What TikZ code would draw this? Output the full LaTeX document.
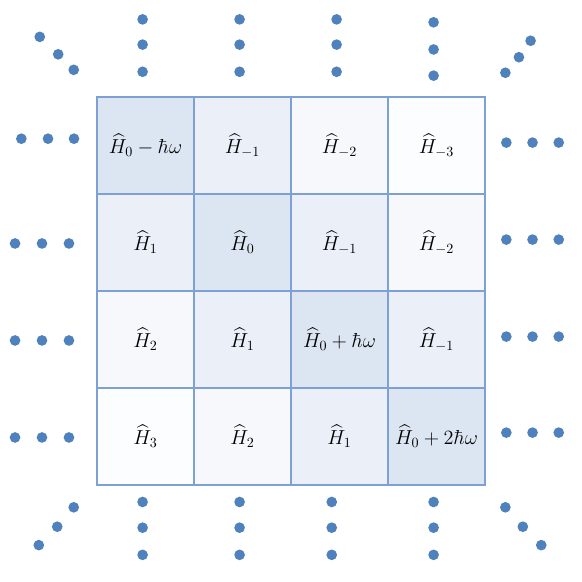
\documentclass[tikz,border=0pt]{standalone}
\usepackage{amsmath}

\definecolor{dotblue}{HTML}{4F81BD}
\definecolor{gridblue}{HTML}{7EA1D3}
\definecolor{band0}{HTML}{DCE6F2}
\definecolor{band1}{HTML}{EBF0F8}
\definecolor{band2}{HTML}{F6F8FB}
\definecolor{band3}{HTML}{FCFDFE}

\tikzset{
  cell/.style={draw=gridblue, line width=1.3pt, minimum size=2.425cm,
    inner sep=0pt, font=\Large},
  blob/.style={fill=dotblue},
}

\begin{document}
\begin{tikzpicture}[x=2.425cm,y=2.425cm]

\useasboundingbox (-1,-1) rectangle (5,5);

% the Floquet blocks
\foreach \r/\c/\b/\t in {
  0/0/0/{$\widehat{H}_0-\hbar\omega$}, 0/1/1/{$\widehat{H}_{-1}$}, 0/2/2/{$\widehat{H}_{-2}$}, 0/3/3/{$\widehat{H}_{-3}$},
  1/0/1/{$\widehat{H}_1$}, 1/1/0/{$\widehat{H}_0$}, 1/2/1/{$\widehat{H}_{-1}$}, 1/3/2/{$\widehat{H}_{-2}$},
  2/0/2/{$\widehat{H}_2$}, 2/1/1/{$\widehat{H}_1$}, 2/2/0/{$\widehat{H}_0+\hbar\omega$}, 2/3/1/{$\widehat{H}_{-1}$},
  3/0/3/{$\widehat{H}_3$}, 3/1/2/{$\widehat{H}_2$}, 3/2/1/{$\widehat{H}_1$}, 3/3/0/{$\widehat{H}_0+2\hbar\omega$}}
  {\node[cell, fill=band\b] (c\r\c) at (\c+0.5, 3.5-\r) {\t};}

% dots above and below
\foreach \x in {0.47,1.47,2.47}
  {\foreach \y in {4.80,4.54,4.26}
    {\fill[blob] (\x,\y) circle (0.055);}}
\foreach \y in {4.77,4.49,4.22}
  {\fill[blob] (3.47,\y) circle (0.055);}
\foreach \x in {0.47,1.47,2.42,3.47}
  {\foreach \y in {-0.175,-0.44,-0.72}
    {\fill[blob] (\x,\y) circle (0.055);}}

% dots left and right
\foreach \x in {-0.78,-0.505,-0.237}
  {\fill[blob] (\x,3.57) circle (0.055);}
\foreach \x in {-0.845,-0.567,-0.289}
  {\foreach \y in {2.49,1.49,0.49}
    {\fill[blob] (\x,\y) circle (0.055);}}
\foreach \x in {4.22,4.49,4.76}
  {\foreach \y in {3.53,2.53,1.53,0.54}
    {\fill[blob] (\x,\y) circle (0.055);}}

% dots on the corners
\foreach \p in {(-0.59,4.62),(-0.40,4.44),(-0.24,4.28),
                (4.21,4.25),(4.35,4.41),(4.47,4.58),
                (-0.24,-0.23),(-0.41,-0.43),(-0.60,-0.62),
                (4.21,-0.23),(4.39,-0.43),(4.58,-0.62)}
  {\fill[blob] \p circle (0.055);}

\end{tikzpicture}
\end{document}
